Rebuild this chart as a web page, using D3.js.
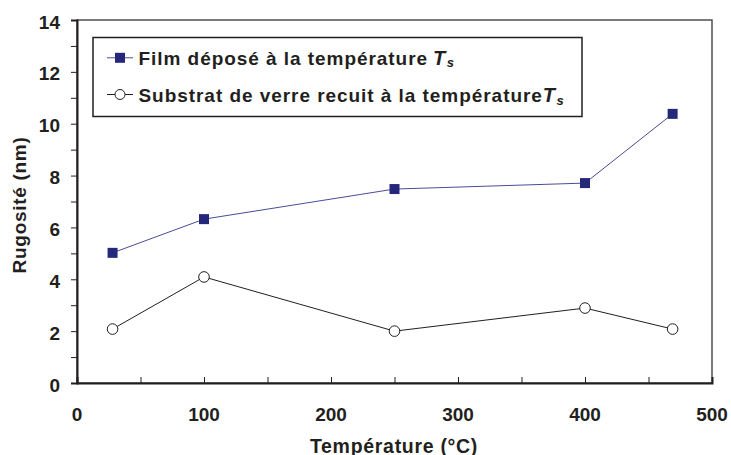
<!DOCTYPE html>
<html><head><meta charset="utf-8">
<script src="https://cdn.jsdelivr.net/npm/d3@7"></script>
<style>body{margin:0;background:#fff}text{font-family:"Liberation Sans",Arial,sans-serif;font-weight:bold;fill:#231f20}</style>
</head><body><svg id="c" width="731" height="455"></svg>
<script>
const temps = [28, 100, 250, 400, 469];
const filmValues = [5.02, 6.32, 7.48, 7.71, 10.38];
const substratValues = [2.08, 4.09, 2.0, 2.89, 2.08];
const xTicks = [0, 100, 200, 300, 400, 500];
const yTicks = [0, 2, 4, 6, 8, 10, 12, 14];
const seriesNames = ["Film déposé à la température", "Substrat de verre recuit à la température"];

const svg = d3.select("#c");
const L = 77, R = 712, T = 20, B = 383;
const x = d3.scaleLinear().domain([0, 500]).range([L, R]);
const y = d3.scaleLinear().domain([0, 14]).range([B, T]);
const ink = "#231f20";
const blue = "#4b4b98", navy = "#25287a";

// frame
svg.append("rect").attr("x", L).attr("y", T).attr("width", R - L).attr("height", B - T)
  .attr("fill", "none").attr("stroke", "#444").attr("stroke-width", 1.4);

// y axis
const ya = svg.append("g").attr("transform", `translate(${L},0)`)
  .call(d3.axisLeft(y).tickValues(d3.range(0, 15, 1)).tickSize(6).tickFormat(""));
ya.select(".domain").attr("stroke", ink).attr("stroke-width", 2);
ya.selectAll(".tick line").attr("stroke", ink).attr("stroke-width", 1);
svg.append("g").selectAll("text").data(yTicks).join("text")
  .attr("x", L - 17).attr("y", d => y(d) + 8.5).attr("text-anchor", "end")
  .attr("font-size", 19).text(d => d);

// x axis
const xa = svg.append("g").attr("transform", `translate(0,${B})`)
  .call(d3.axisBottom(x).tickValues(d3.range(50, 500, 50)).tickSize(-6).tickFormat(""));
xa.select(".domain").attr("stroke", ink).attr("stroke-width", 2);
xa.selectAll(".tick line").attr("stroke", ink).attr("stroke-width", 1);
svg.append("g").selectAll("text").data(xTicks).join("text")
  .attr("x", d => x(d)).attr("y", 421).attr("text-anchor", "middle")
  .attr("font-size", 19).text(d => d);

// axis titles
svg.append("text").attr("x", 394).attr("y", 452.5).attr("text-anchor", "middle")
  .attr("font-size", 19.5).attr("letter-spacing", 0.7).text("Température (°C)");
svg.append("text").attr("transform", "translate(26,205) rotate(-90)").attr("text-anchor", "middle")
  .attr("font-size", 19).attr("letter-spacing", 0.7).text("Rugosité (nm)");

// series
const line = d3.line().x((d, i) => x(temps[i])).y(d => y(d));
svg.append("path").datum(filmValues).attr("d", line).attr("fill", "none")
  .attr("stroke", blue).attr("stroke-width", 1);
svg.append("g").selectAll("rect").data(filmValues).join("rect")
  .attr("x", (d, i) => x(temps[i]) - 5).attr("y", d => y(d) - 5)
  .attr("width", 10).attr("height", 10).attr("fill", navy);
svg.append("path").datum(substratValues).attr("d", line).attr("fill", "none")
  .attr("stroke", ink).attr("stroke-width", 1);
svg.append("g").selectAll("circle").data(substratValues).join("circle")
  .attr("cx", (d, i) => x(temps[i])).attr("cy", d => y(d)).attr("r", 5.3)
  .attr("fill", "#fff").attr("stroke", ink).attr("stroke-width", 1);

// legend
const lg = svg.append("g");
lg.append("rect").attr("x", 93).attr("y", 37.5).attr("width", 489).attr("height", 79)
  .attr("fill", "#fff").attr("stroke", ink).attr("stroke-width", 1.5);
const markY = [57.8, 94.5];
const baseY = [64.8, 102.3];
lg.append("line").attr("x1", 107).attr("x2", 133).attr("y1", markY[0]).attr("y2", markY[0]).attr("stroke", blue);
lg.append("rect").attr("x", 115).attr("y", markY[0] - 5).attr("width", 10).attr("height", 10).attr("fill", navy);
lg.append("line").attr("x1", 107).attr("x2", 133).attr("y1", markY[1]).attr("y2", markY[1]).attr("stroke", ink);
lg.append("circle").attr("cx", 120).attr("cy", markY[1]).attr("r", 5).attr("fill", "#fff").attr("stroke", ink);
baseY.forEach((by, i) => {
  const t = lg.append("text").attr("x", 138.5).attr("y", by).attr("font-size", 19);
  t.append("tspan").attr("letter-spacing", 0.95).text(seriesNames[i]);
  t.append("tspan").attr("font-style", "italic").attr("font-size", 20).attr("dx", i === 0 ? 5 : 0).text("T");
  t.append("tspan").attr("font-style", "italic").attr("font-size", 13).attr("dy", 2.5).attr("dx", 1.5).text("s");
});
</script></body></html>
